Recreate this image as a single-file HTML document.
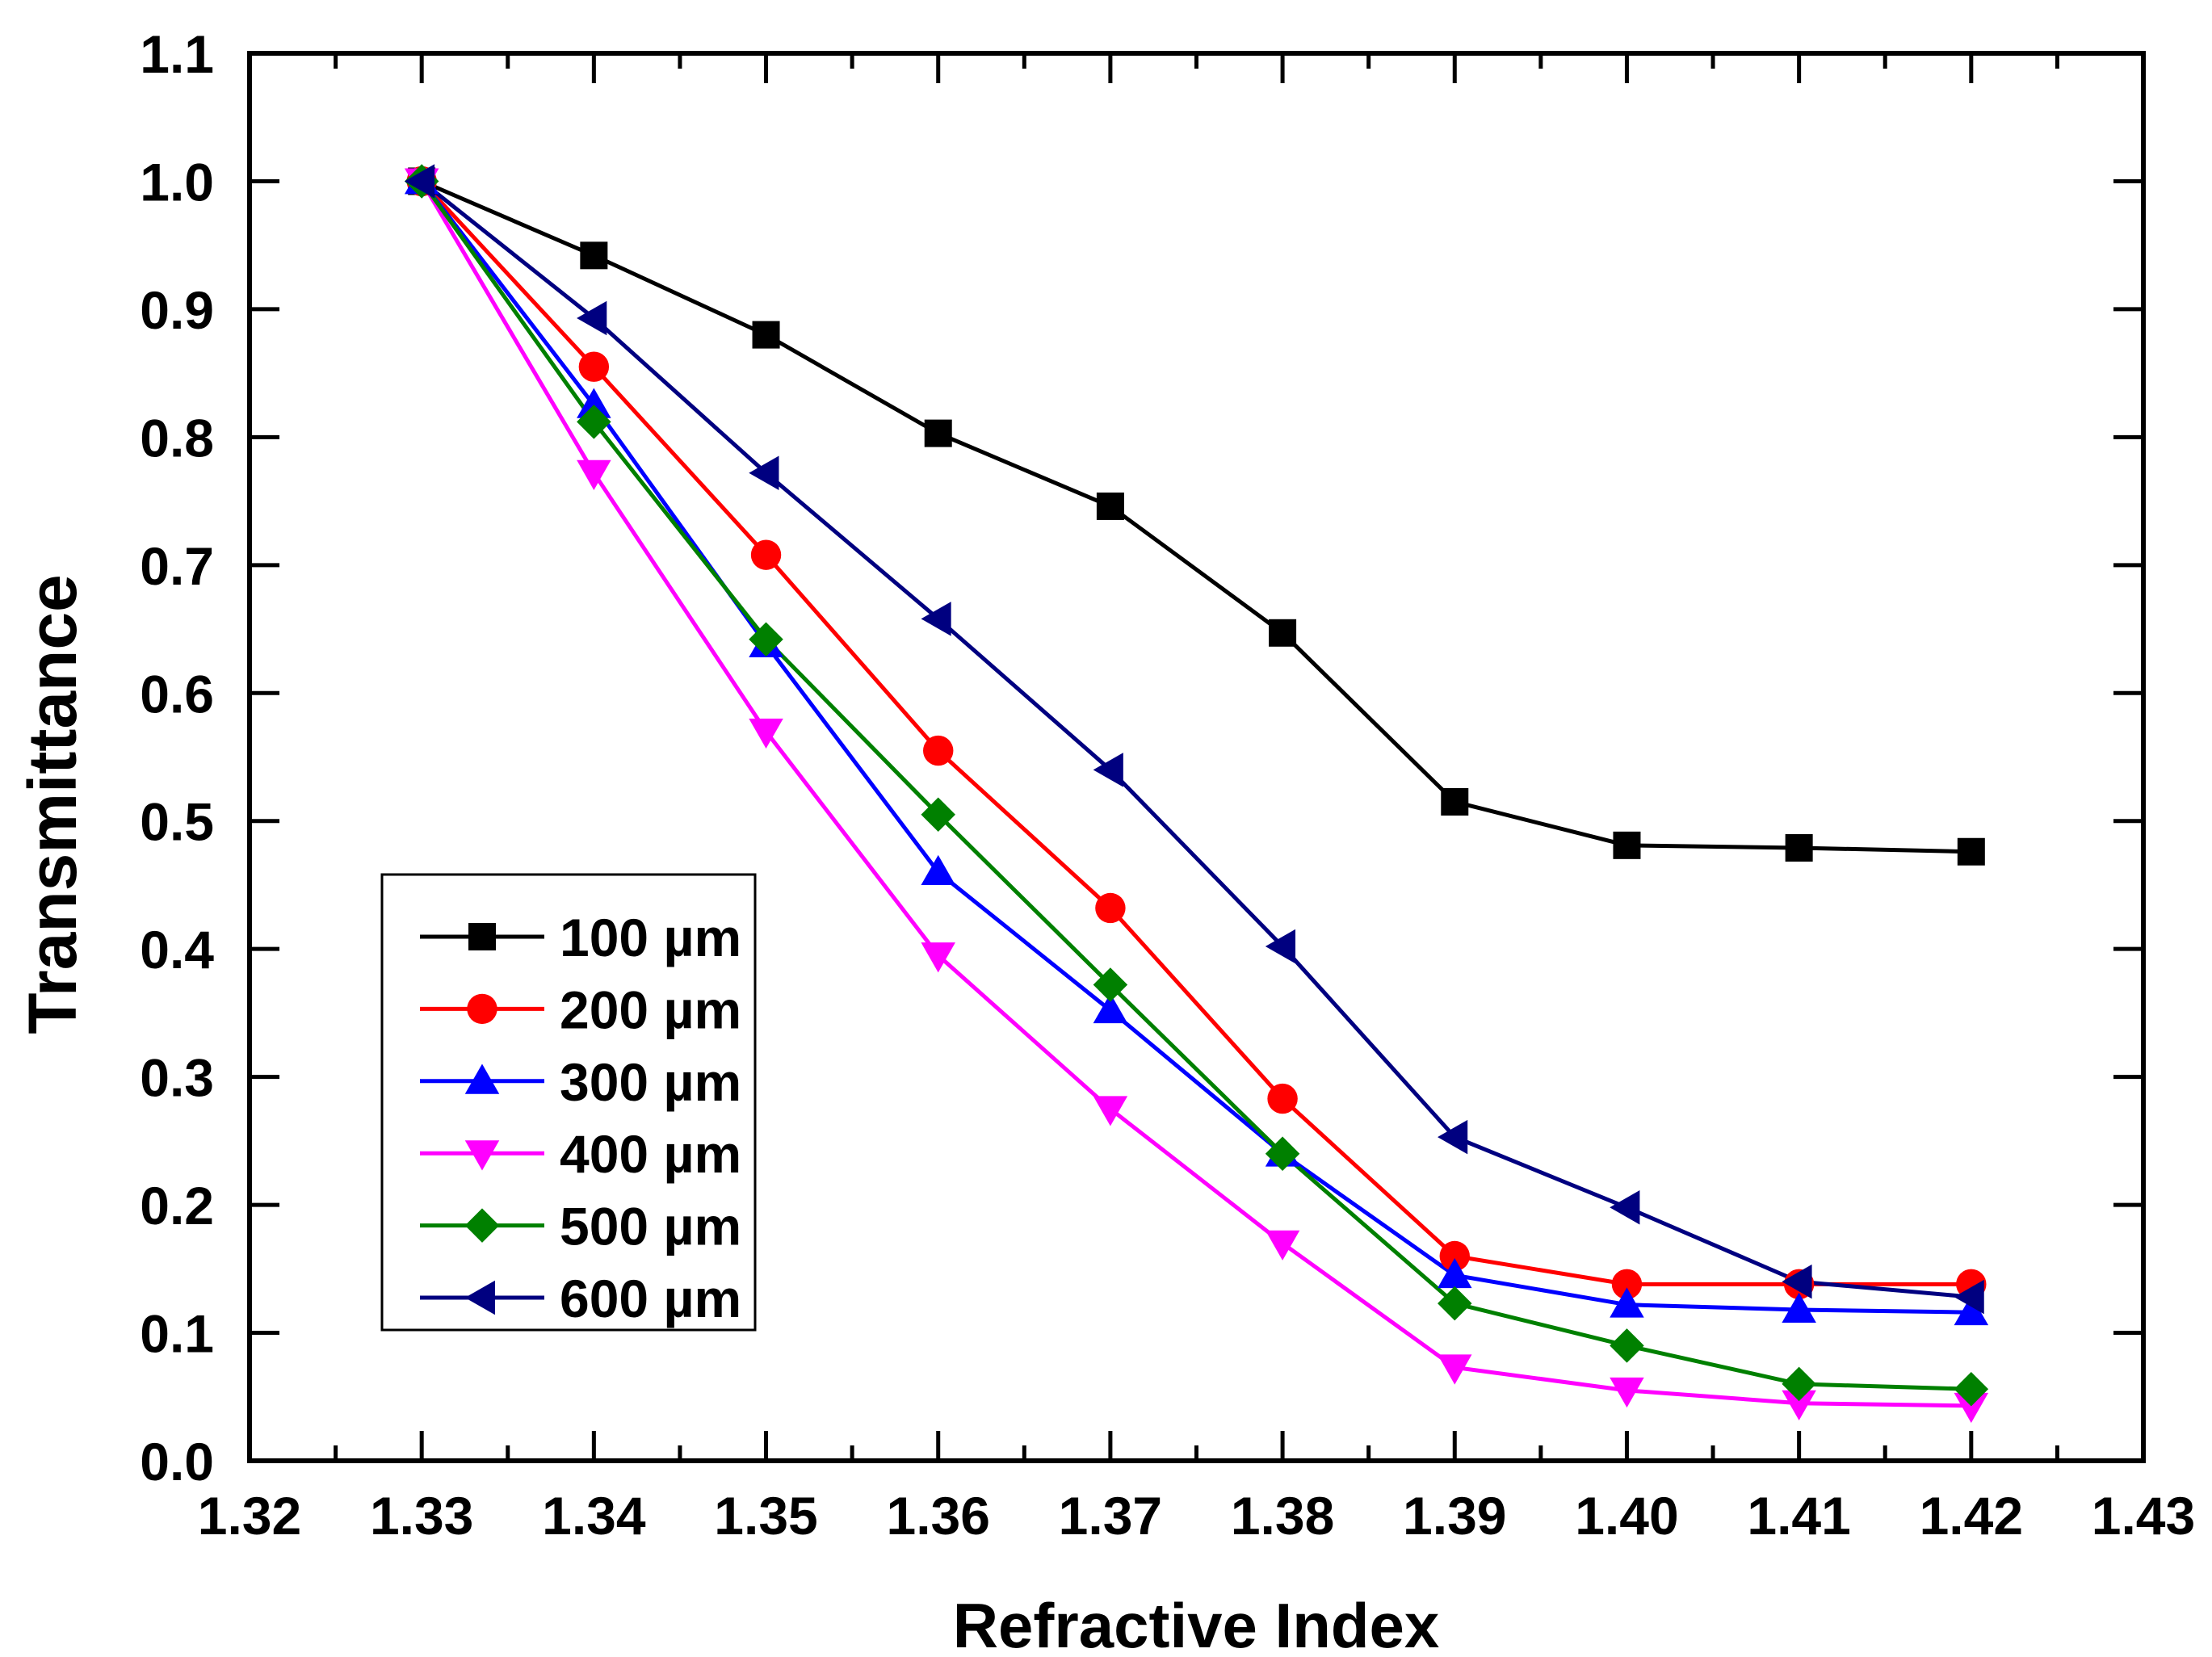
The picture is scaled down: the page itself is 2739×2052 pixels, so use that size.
<!DOCTYPE html>
<html><head><meta charset="utf-8"><style>
html,body{margin:0;padding:0;background:#fff}
svg{display:block}
text{font-family:"Liberation Sans",Arial,sans-serif;font-weight:bold;fill:#000}
</style></head><body>
<svg id="chart" width="2739" height="2052" viewBox="0 0 2739 2052" xmlns="http://www.w3.org/2000/svg">
<rect width="2739" height="2052" fill="#fff"/>
<g id="grid"></g>
<g id="series"></g>
<g id="legend"></g>
<text x="1481" y="2040" font-size="78" text-anchor="middle">Refractive Index</text>
<text transform="translate(94,996) rotate(-90)" font-size="84" text-anchor="middle">Transmittance</text>
</svg>
<script>
const xCategories = [1.33,1.34,1.35,1.36,1.37,1.38,1.39,1.40,1.41,1.42];
const s100 = [1.0,0.942,0.88,0.803,0.746,0.647,0.515,0.481,0.479,0.476];
const s200 = [1.0,0.855,0.708,0.555,0.432,0.283,0.16,0.138,0.138,0.138];
const s300 = [1.0,0.825,0.638,0.46,0.352,0.24,0.145,0.122,0.118,0.116];
const s400 = [1.0,0.772,0.57,0.395,0.275,0.17,0.073,0.055,0.045,0.043];
const s500 = [1.0,0.812,0.642,0.505,0.372,0.24,0.123,0.09,0.06,0.056];
const s600 = [1.0,0.893,0.772,0.658,0.54,0.402,0.253,0.198,0.14,0.128];
const seriesNames = ["100 µm","200 µm","300 µm","400 µm","500 µm","600 µm"];
const xTickLabels = ["1.32","1.33","1.34","1.35","1.36","1.37","1.38","1.39","1.40","1.41","1.42","1.43"];
const yTickLabels = ["0.0","0.1","0.2","0.3","0.4","0.5","0.6","0.7","0.8","0.9","1.0","1.1"];

const NS="http://www.w3.org/2000/svg";
const X0=309,X1=2654,Y0=66,Y1=1809;
const xMin=1.32,xMax=1.43,yMin=0,yMax=1.1;
const xs=v=>X0+(v-xMin)/(xMax-xMin)*(X1-X0);
const ys=v=>Y1-(v-yMin)/(yMax-yMin)*(Y1-Y0);
function mk(tag,attrs,parent){const e=document.createElementNS(NS,tag);for(const k in attrs)e.setAttribute(k,attrs[k]);parent.appendChild(e);return e;}
const grid=document.getElementById('grid');
const frame=mk('rect',{x:X0,y:Y0,width:X1-X0,height:Y1-Y0,fill:'none',stroke:'#000','stroke-width':6},grid);


xTickLabels.forEach((lab,i)=>{
  const v=parseFloat(lab);const x=xs(v);
  [[Y1,Y1-37],[Y0,Y0+37]].forEach(p=>{const t=mk('line',{x1:x,x2:x,y1:p[0],y2:p[1],stroke:'#000','stroke-width':5},grid);
    });
  if(i<xTickLabels.length-1){const xm=xs(v+0.005);
    [[Y1,Y1-19],[Y0,Y0+19]].forEach(p=>{const t=mk('line',{x1:xm,x2:xm,y1:p[0],y2:p[1],stroke:'#000','stroke-width':5},grid);
      });}
  const tx=mk('text',{x:x,y:1900,'font-size':66,'text-anchor':'middle'},grid);tx.textContent=lab;
  
});
yTickLabels.forEach((lab)=>{
  const v=parseFloat(lab);const y=ys(v);
  [[X0,X0+37],[X1,X1-37]].forEach(p=>{const t=mk('line',{x1:p[0],x2:p[1],y1:y,y2:y,stroke:'#000','stroke-width':5},grid);
    });
  const ty=mk('text',{x:265,y:y+24,'font-size':66,'text-anchor':'end'},grid);ty.textContent=lab;
  
});
const colors=['#000000','#ff0000','#0000ff','#ff00ff','#008000','#000080'];
const shapes=['square','circle','up','down','diamond','left'];
function marker(shape,cx,cy,r,color,parent){
  let e;
  if(shape==='square')e=mk('rect',{x:cx-r,y:cy-r,width:2*r,height:2*r,fill:color},parent);
  else if(shape==='circle')e=mk('circle',{cx:cx,cy:cy,r:r*1.1,fill:color},parent);
  else{let pts;const R=r*1.25;
    if(shape==='up')pts=[[cx,cy-R],[cx+R,cy+R*0.75],[cx-R,cy+R*0.75]];
    if(shape==='down')pts=[[cx,cy+R],[cx+R,cy-R*0.75],[cx-R,cy-R*0.75]];
    if(shape==='diamond')pts=[[cx,cy-R],[cx+R,cy],[cx,cy+R],[cx-R,cy]];
    if(shape==='left')pts=[[cx-R,cy],[cx+R*0.75,cy-R],[cx+R*0.75,cy+R]];
    e=mk('polygon',{points:pts.map(p=>p.join(',')).join(' '),fill:color},parent);}
  return e;
}
const allSeries=[s100,s200,s300,s400,s500,s600];
const sg=document.getElementById('series');
allSeries.forEach((data,si)=>{
  const pts=data.map((v,i)=>xs(xCategories[i])+','+ys(v)).join(' ');
  const pl=mk('polyline',{points:pts,fill:'none',stroke:colors[si],'stroke-width':5},sg);
  
  
});
allSeries.forEach((data,si)=>{
  data.forEach((v,i)=>{
    const m=marker(shapes[si],xs(xCategories[i]),ys(v),17,colors[si],sg);
    
    
  });
});
const lg=document.getElementById('legend');
const box=mk('rect',{x:473,y:1083,width:462,height:564,fill:'#fff',stroke:'#000','stroke-width':3},lg);


seriesNames.forEach((n,i)=>{
  const y=1160+i*89.4;
  const l=mk('line',{x1:520,x2:674,y1:y,y2:y,stroke:colors[i],'stroke-width':5},lg);
  
  
  const m=marker(shapes[i],597,y,17,colors[i],lg);
  
  
  const t=mk('text',{x:693,y:y+24,'font-size':66},lg);t.textContent=n;
  
  
});
</script>
</body></html>
